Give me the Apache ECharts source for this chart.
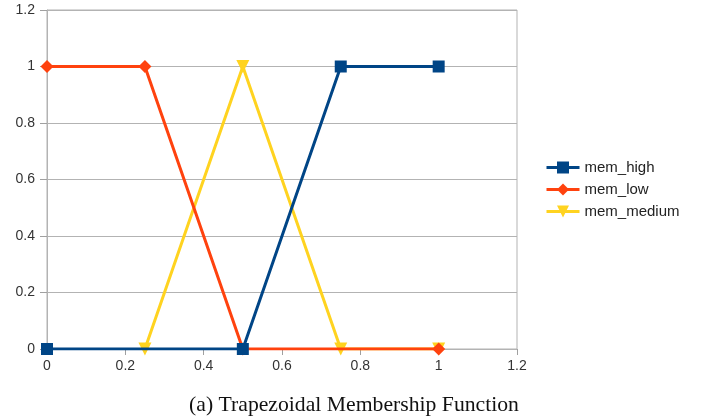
<!DOCTYPE html>
<html>
<head>
<meta charset="utf-8">
<script src="https://cdn.jsdelivr.net/npm/echarts@6/dist/echarts.min.js"></script>
<style>
  html, body { margin: 0; padding: 0; background: #fff; }
  #chart { width: 701px; height: 417px; }
</style>
</head>
<body>
<div id="chart"></div>
<script>
// Membership function breakpoints (x = normalised memory usage, y = degree)
const memHighX = [0, 0.5, 0.75, 1];
const memHighY = [0, 0, 1, 1];
const memLowX = [0, 0.25, 0.5, 1];
const memLowY = [1, 1, 0, 0];
const memMediumX = [0.25, 0.5, 0.75, 1];
const memMediumY = [0, 1, 0, 0];

const xTicks = [0, 0.2, 0.4, 0.6, 0.8, 1, 1.2];
const yTicks = [0, 0.2, 0.4, 0.6, 0.8, 1, 1.2];
const caption = '(a) Trapezoidal Membership Function';

const pairs = (xs, ys) => xs.map((x, i) => [x, ys[i]]);
const fmt = v => String(+v.toFixed(1));

const chart = echarts.init(document.getElementById('chart'));
const gridColor = '#b3b3b3';
const tickColor = '#a0a0a0';
const labelStyle = { color: '#333', fontFamily: 'Liberation Sans, Arial, sans-serif', fontSize: 14 };

chart.setOption({
  animation: false,
  grid: { left: 47, right: 184, top: 10, bottom: 68, show: true, borderColor: gridColor, borderWidth: 1 },
  title: {
    text: caption,
    left: 349, top: 389, textAlign: 'center',
    textStyle: { fontFamily: 'Liberation Serif, Times New Roman, serif', fontSize: 21.7, fontWeight: 'normal', color: '#111' }
  },
  legend: {
    orient: 'vertical',
    left: 540, top: 155,
    itemWidth: 33, itemHeight: 15, itemGap: 7,
    data: ['mem_high', 'mem_low', 'mem_medium'],
    lineStyle: { width: 3 },
    textStyle: { color: '#222', fontFamily: 'Liberation Sans, Arial, sans-serif', fontSize: 15 }
  },
  xAxis: {
    type: 'value', min: xTicks[0], max: xTicks[xTicks.length - 1], interval: 0.2,
    axisLine: { show: true, onZero: false, lineStyle: { color: gridColor } },
    axisTick: { show: true, length: 6, lineStyle: { color: tickColor, width: 1 } },
    splitLine: { show: false },
    axisLabel: Object.assign({ margin: 10, formatter: fmt }, labelStyle)
  },
  yAxis: {
    type: 'value', min: yTicks[0], max: yTicks[yTicks.length - 1], interval: 0.2,
    axisLine: { show: true, onZero: false, lineStyle: { color: gridColor } },
    axisTick: { show: true, length: 7, lineStyle: { color: tickColor, width: 1 } },
    splitLine: { show: true, lineStyle: { color: gridColor } },
    axisLabel: Object.assign({ margin: 12, formatter: fmt }, labelStyle)
  },
  series: [
    {
      name: 'mem_medium', type: 'line', data: pairs(memMediumX, memMediumY),
      symbol: 'triangle', symbolRotate: 180, symbolSize: 13,
      lineStyle: { width: 3, color: '#ffd320' }, itemStyle: { color: '#ffd320' }, z: 2
    },
    {
      name: 'mem_low', type: 'line', data: pairs(memLowX, memLowY),
      symbol: 'diamond', symbolSize: 13,
      lineStyle: { width: 3, color: '#ff420e' }, itemStyle: { color: '#ff420e' }, z: 3
    },
    {
      name: 'mem_high', type: 'line', data: pairs(memHighX, memHighY),
      symbol: 'rect', symbolSize: 12,
      lineStyle: { width: 3, color: '#004586' }, itemStyle: { color: '#004586' }, z: 4
    }
  ]
});
</script>
</body>
</html>
